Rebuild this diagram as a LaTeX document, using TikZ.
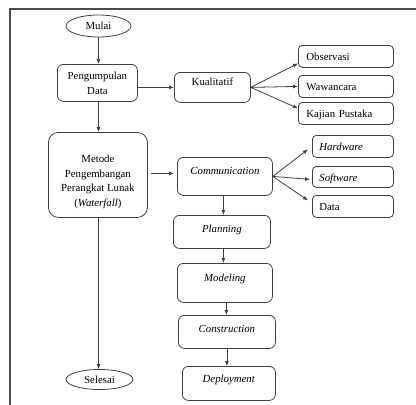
\documentclass[tikz,border=0pt]{standalone}
\usepackage{fontspec}
\setmainfont{Liberation Serif}
\usetikzlibrary{shapes.geometric,arrows.meta}
\newcommand{\diagfont}{\fontsize{10.8}{14.5}\selectfont}
\begin{document}
\begin{tikzpicture}[x=1pt,y=-1pt,
  line/.style={draw=black!75, line width=0.8pt},
  flow/.style={line, -{Latex[length=5pt,width=4pt]}},
  frame/.style={draw=black!70, line width=1.1pt},
  terminal/.style={ellipse, line, inner sep=0pt, font=\diagfont},
  stepbox/.style={rectangle, rounded corners=6pt, line, inner xsep=0pt,
    inner ysep=0pt, font=\diagfont, align=center, anchor=north west},
  itembox/.style={rectangle, rounded corners=4pt, line, inner xsep=8pt,
    inner ysep=0pt, font=\diagfont, align=left, anchor=north west,
    text height=15pt, text depth=7pt},
]
\useasboundingbox (0,0) rectangle (416,405);

% page frame
\draw[frame] (10,405) -- (10,9) -- (416,9);

% main column
\node[terminal, minimum width=65pt, minimum height=22pt] (mulai) at (98.5,26) {Mulai};
\node[stepbox, minimum width=80pt, text height=30pt, text depth=7pt] (kumpul) at (57,64) {Pengumpulan\\Data};
\node[stepbox, rounded corners=10pt, minimum width=99pt, text height=74pt, text depth=11pt] (metode) at (48,132)
  {Metode\\Pengembangan\\Perangkat Lunak\\(\textit{Waterfall})};
\node[terminal, minimum width=67pt, minimum height=20pt] (selesai) at (99.5,379.5) {Selesai};

% data collection
\node[stepbox, minimum width=76pt, text height=13.5pt, text depth=16.5pt] (kual) at (174,72) {Kualitatif};
\node[itembox, text width=79pt] (obs) at (298,45) {Observasi};
\node[itembox, text width=79pt] (wawan) at (298,75) {Wawancara};
\node[itembox, text width=79pt] (kajian) at (298,102) {Kajian Pustaka};

% waterfall stages
\node[stepbox, minimum width=95pt, text height=17pt, text depth=21pt] (comm) at (177,157) {\textit{Communication}};
\node[stepbox, minimum width=97pt, text height=17pt, text depth=16pt] (plan) at (173,215) {\textit{Planning}};
\node[stepbox, minimum width=95pt, text height=18pt, text depth=21pt] (model) at (177,263) {\textit{Modeling}};
\node[stepbox, minimum width=97pt, text height=17pt, text depth=16pt] (constr) at (178,315) {\textit{Construction}};
\node[stepbox, minimum width=93pt, text height=16pt, text depth=18pt] (deploy) at (182,366) {\textit{Deployment}};

% requirements
\node[itembox, inner xsep=7pt, text width=67pt] (hard) at (312,135) {\textit{Hardware}};
\node[itembox, inner xsep=7pt, text width=67pt, text depth=6pt] (soft) at (312,166) {\textit{Software}};
\node[itembox, inner xsep=7pt, text width=67pt] (data) at (312,195) {Data};

% connectors
\draw[flow] (mulai.south) -- (mulai.south |- kumpul.north);
\draw[flow] (mulai.south |- kumpul.south) -- (mulai.south |- metode.north);
\draw[flow] (mulai.south |- metode.south) -- (mulai.south |- selesai.north);
\draw[flow] (kumpul.east |- kual.west) -- (kual.west);
\draw[flow] (kual.east) -- ([yshift=-7pt]obs.west);
\draw[flow] (kual.east) -- (wawan.west);
\draw[flow] (kual.east) -- ([yshift=5pt]kajian.west);
\draw[flow, shorten <=3pt, shorten >=3pt] ([yshift=1.5pt]metode.east) -- ([yshift=1.5pt]metode.east -| comm.west);
\draw[flow] (comm.east) -- ([yshift=-3pt,xshift=-4pt]hard.west);
\draw[flow] (comm.east) -- ([yshift=-2.5pt,xshift=-2pt]soft.west);
\draw[flow] (comm.east) -- ([yshift=6pt,xshift=-4pt]data.west);
\draw[flow] ([xshift=-1.5pt]comm.south) -- ([xshift=-1.5pt]comm.south |- plan.north);
\draw[flow] ([xshift=1.5pt]plan.south) -- ([xshift=1.5pt]plan.south |- model.north);
\draw[flow] ([xshift=1.5pt]model.south) -- ([xshift=1.5pt]model.south |- constr.north);
\draw[flow] (constr.south) -- (constr.south |- deploy.north);
\end{tikzpicture}
\end{document}
